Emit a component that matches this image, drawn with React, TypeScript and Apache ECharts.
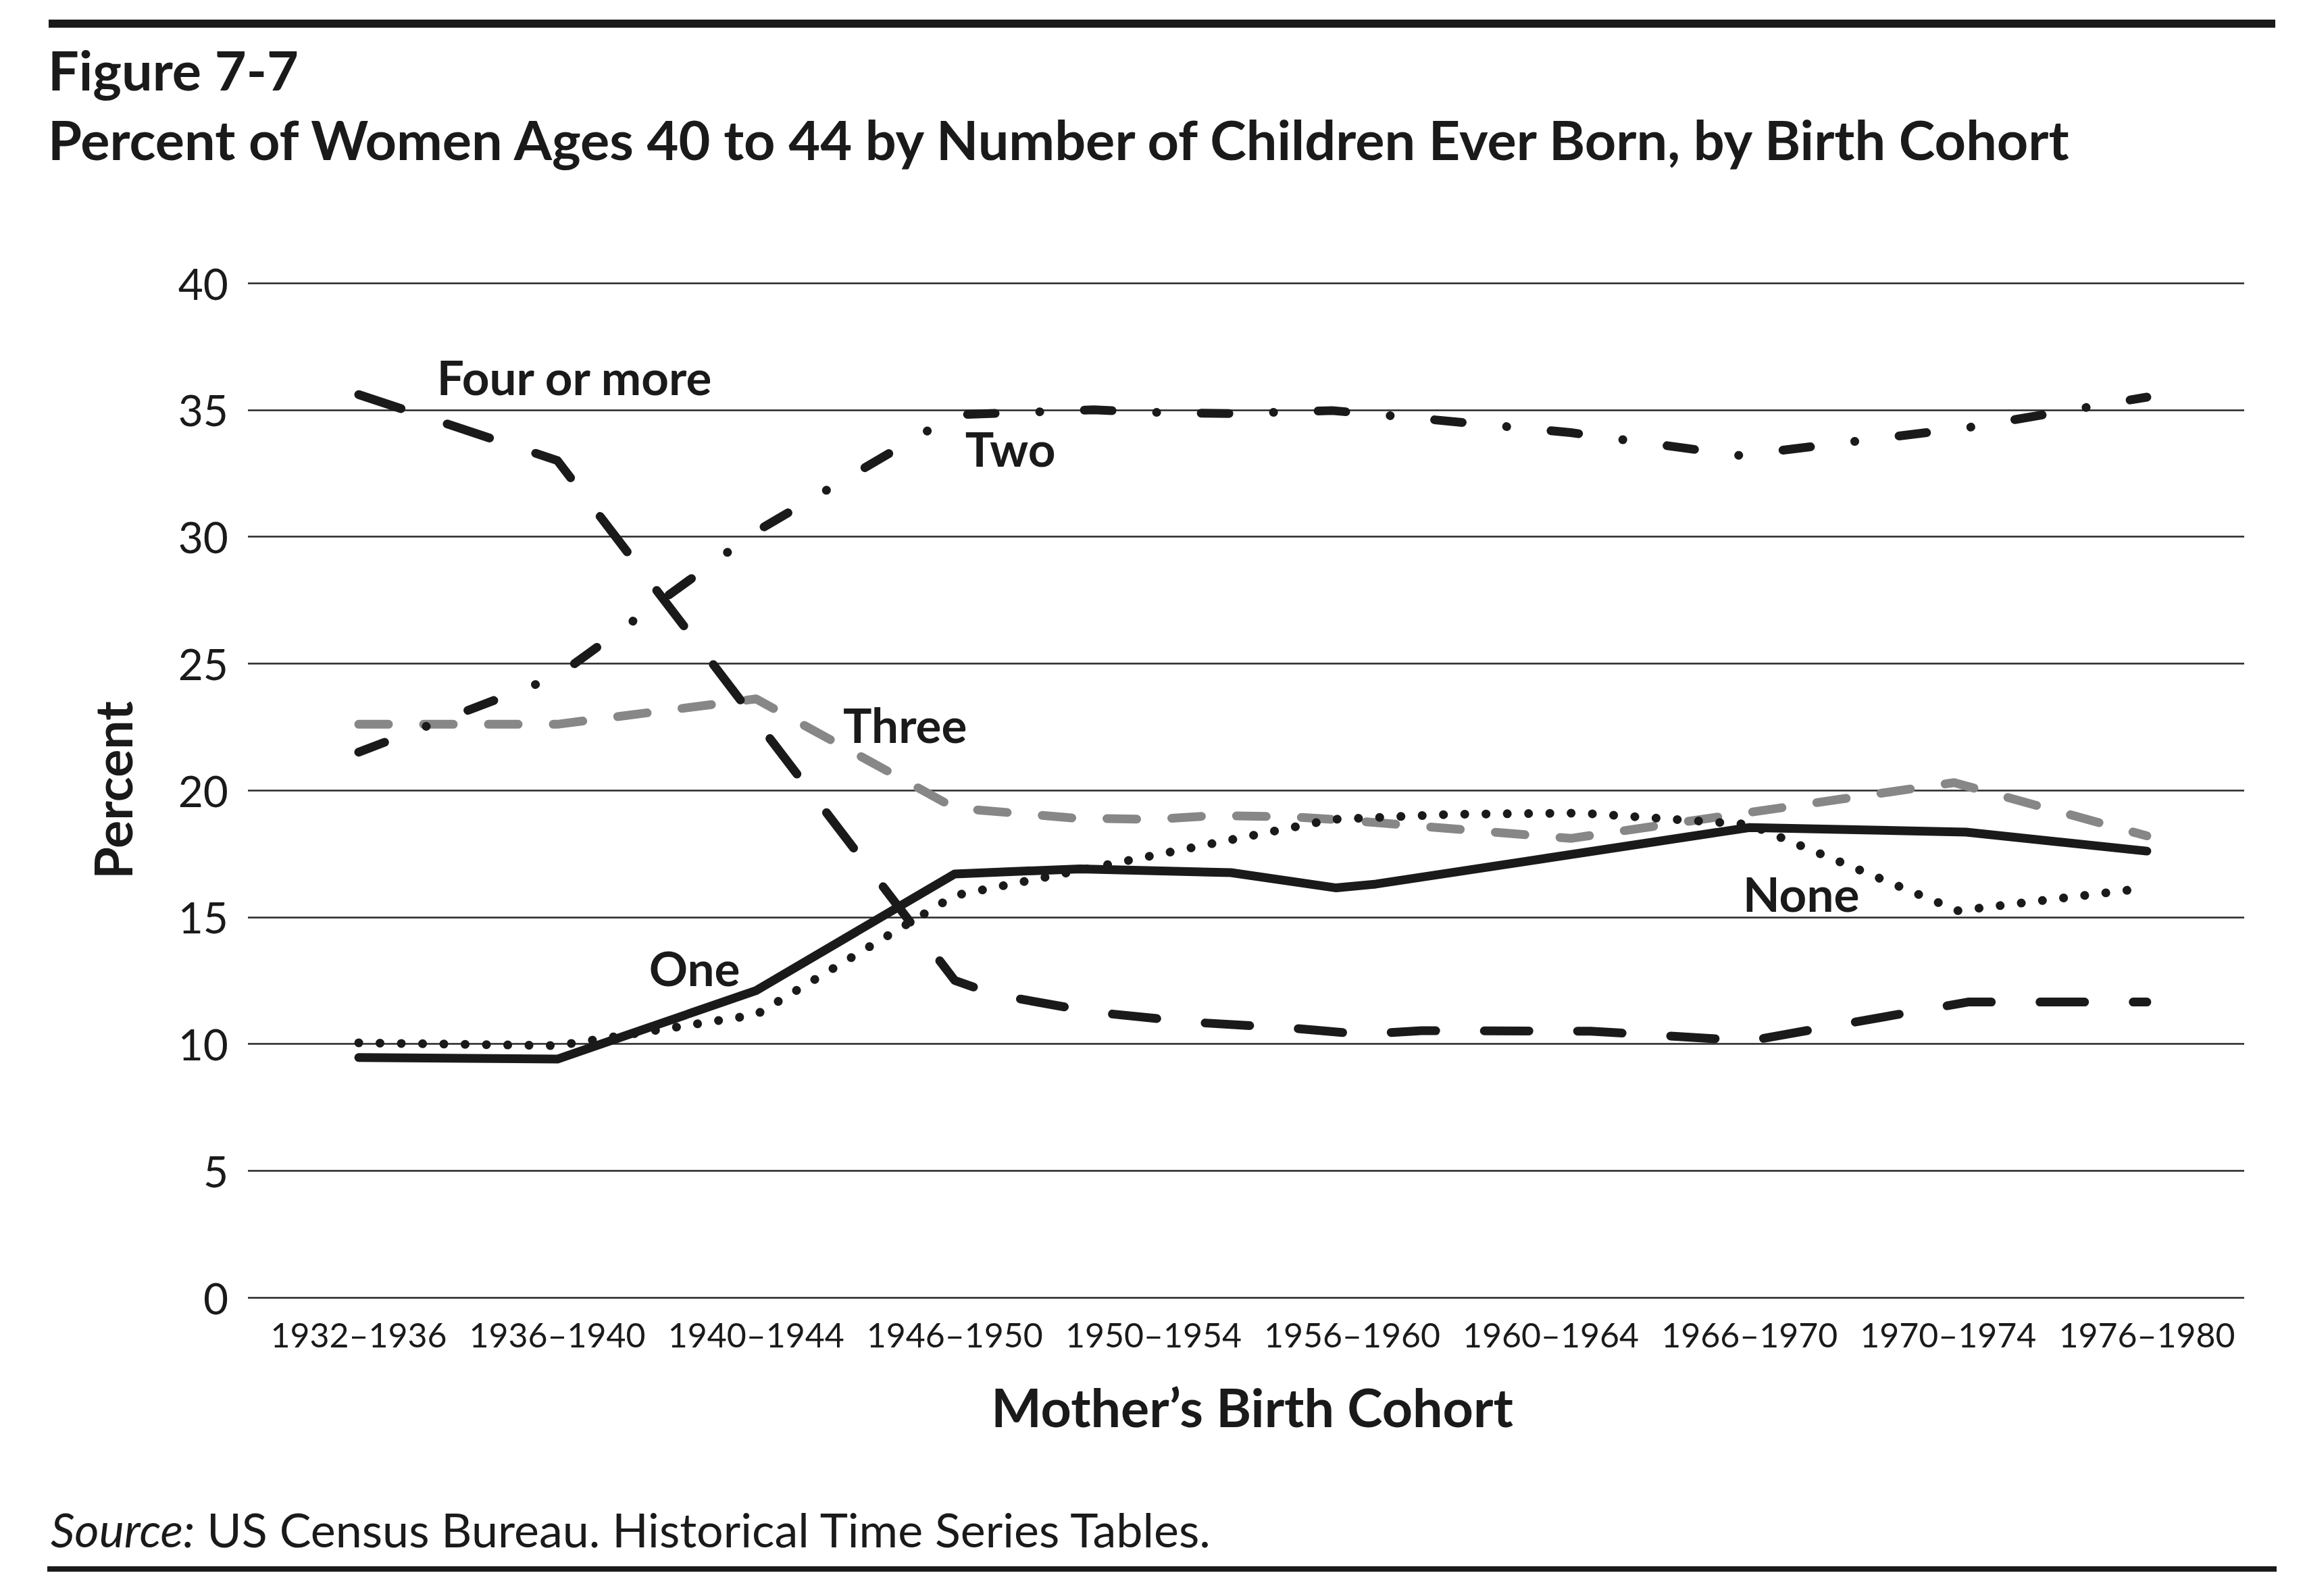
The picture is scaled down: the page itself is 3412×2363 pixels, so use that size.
import React, { useEffect, useRef } from "react";
import * as echarts from "echarts";

const cohorts = [
  "1932–1936", "1936–1940", "1940–1944", "1946–1950", "1950–1954",
  "1956–1960", "1960–1964", "1966–1970", "1970–1974", "1976–1980",
];
const cohortIndex = [0, 1, 2, 3, 4, 5, 6, 7, 8, 9];

// [cohort position, percent]
const noneData: [number, number][] = [
  [0, 10.04], [1, 9.93], [2, 11.15], [3, 15.85], [4.9, 18.85], [5.5, 19.05],
  [6.15, 19.1], [7, 18.65], [8.05, 15.25], [9, 16.15],
];
const oneData: [number, number][] = [
  [0, 9.46], [1, 9.4], [2, 12.1], [3, 16.7], [3.63, 16.9], [4.39, 16.75],
  [4.92, 16.15], [5.12, 16.3], [7, 18.53], [8.09, 18.35], [9, 17.6],
];
const twoData: [number, number][] = [
  [0, 21.5], [1, 24.5], [2, 30.2], [3, 34.8], [3.7, 35.0], [4.0, 34.9],
  [4.4, 34.85], [4.9, 34.97], [5.15, 34.8], [6.1, 34.1], [6.95, 33.2],
  [8.1, 34.3], [9, 35.5],
];
const threeData: [number, number][] = [
  [0, 22.6], [1, 22.6], [2, 23.6], [3, 19.3], [3.6, 18.9], [4.0, 18.85],
  [4.3, 19.0], [4.7, 18.95], [5.0, 18.8], [6.1, 18.1], [8.03, 20.3], [9, 18.2],
];
const fourData: [number, number][] = [
  [0, 35.6], [1, 33.0], [3, 12.5], [3.2, 11.95], [3.7, 11.25], [4.2, 10.85],
  [4.7, 10.62], [5.05, 10.38], [5.35, 10.52], [6.2, 10.5], [7, 10.12],
  [8.1, 11.65], [9, 11.65],
];

const seriesLabels = [
  { name: "Four or more", value: [1.085, 36.3] },
  { name: "Two", value: [3.28, 33.5] },
  { name: "Three", value: [2.75, 22.6] },
  { name: "One", value: [1.69, 13.0] },
  { name: "None", value: [7.26, 15.95] },
];

const titleLine1 = "Figure 7-7";
const titleLine2 =
  "Percent of Women Ages 40 to 44 by Number of Children Ever Born, by Birth Cohort";
const xAxisTitle = "Mother’s Birth Cohort";
const yAxisTitle = "Percent";
const sourceLabel = "Source:";
const sourceText = " US Census Bureau. Historical Time Series Tables.";

const INK = "#1a1a1a";
const GRAY = "#878787";
const FONT = "Lato";

export default function App() {
  const ref = useRef<HTMLDivElement>(null);

  useEffect(() => {
    if (!ref.current) return;
    const chart = echarts.init(ref.current, undefined, { renderer: "svg" });
    const lw = 13;
    const base = (name: string, data: [number, number][], color: string, type: any, z: number) => ({
      name,
      type: "line",
      data,
      showSymbol: false,
      symbol: "none",
      z,
      lineStyle: { color, width: lw, type, cap: "round", join: "round" },
      emphasis: { disabled: true },
    });
    chart.setOption({
      animation: false,
      backgroundColor: "#ffffff",
      title: [
        {
          text: titleLine1 + "\n" + titleLine2,
          left: 66,
          top: 46,
          textStyle: {
            fontFamily: FONT,
            fontWeight: "bold",
            fontSize: 81,
            lineHeight: 103,
            color: INK,
          },
        },
        {
          text: "{i|" + sourceLabel + "}" + sourceText,
          left: 70,
          top: 2219,
          textStyle: {
            fontFamily: FONT,
            fontWeight: "normal",
            fontSize: 70,
            lineHeight: 80,
            color: INK,
            rich: {
              i: {
                fontFamily: FONT,
                fontStyle: "italic",
                fontWeight: "normal",
                fontSize: 70,
                lineHeight: 80,
                color: INK,
              },
            },
          },
        },
      ],
      graphic: [
        { type: "rect", shape: { x: 72, y: 29, width: 3296, height: 12 }, style: { fill: INK } },
        { type: "rect", shape: { x: 70, y: 2319, width: 3300, height: 8 }, style: { fill: INK } },
      ],
      grid: { left: 367, right: 90, top: 419, bottom: 442, containLabel: false },
      xAxis: {
        type: "value",
        min: -0.5576,
        max: 9.49,
        name: xAxisTitle,
        nameLocation: "middle",
        nameGap: 122,
        nameTextStyle: {
          fontFamily: FONT,
          fontWeight: "bold",
          fontSize: 79,
          color: INK,
          padding: [0, 0, 0, 18],
        },
        axisLine: { show: false },
        axisTick: { show: false },
        splitLine: { show: false },
        axisLabel: {
          customValues: cohortIndex,
          formatter: (v: number) => cohorts[Math.round(v)] ?? "",
          fontFamily: FONT,
          fontSize: 50,
          color: INK,
          margin: 30,
        },
      },
      yAxis: {
        type: "value",
        min: 0,
        max: 40,
        interval: 5,
        name: yAxisTitle,
        nameLocation: "middle",
        nameRotate: 90,
        nameGap: 163,
        nameTextStyle: { fontFamily: FONT, fontWeight: "bold", fontSize: 77, color: INK },
        axisLine: { show: false },
        axisTick: { show: false },
        splitLine: { show: true, lineStyle: { color: "#262626", width: 2.5 } },
        axisLabel: { fontFamily: FONT, fontSize: 64, color: INK, margin: 29 },
      },
      series: [
        base("Three", threeData, GRAY, [44, 52], 2),
        base("None", noneData, INK, [0.1, 31.4], 3),
        base("One", oneData, INK, "solid", 4),
        base("Four or more", fourData, INK, [66, 72], 5),
        base("Two", twoData, INK, [41, 66, 0.1, 66], 6),
        {
          type: "scatter",
          data: seriesLabels,
          symbolSize: 0,
          z: 10,
          silent: true,
          itemStyle: { opacity: 1 },
          label: {
            show: true,
            position: "inside",
            formatter: (p: any) => p.name,
            fontFamily: FONT,
            fontWeight: "bold",
            fontSize: 71,
            color: INK,
            opacity: 1,
          },
        },
      ],
    });
    return () => chart.dispose();
  }, []);

  return (
    <div
      ref={ref}
      style={{ position: "fixed", left: 0, top: 0, width: 3412, height: 2363, background: "#fff" }}
    />
  );
}
